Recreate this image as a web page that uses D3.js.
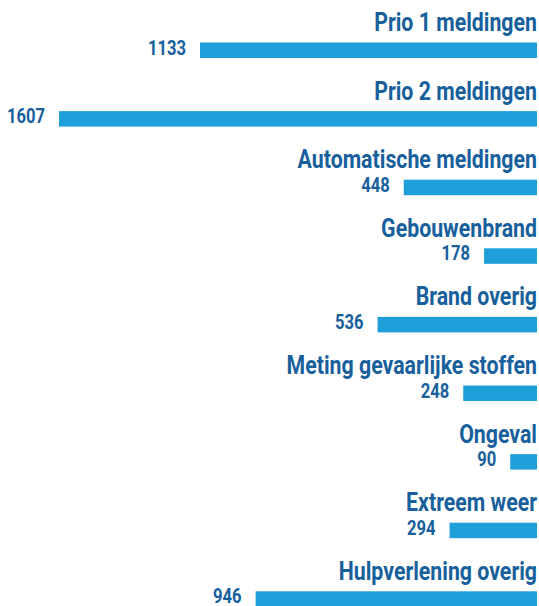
<!DOCTYPE html>
<html>
<head>
<meta charset="utf-8">
<script src="https://cdn.jsdelivr.net/npm/d3@7"></script>
<style>
  body { margin: 0; background: #fff; }
  text { font-family: Roboto, "Noto Sans", sans-serif; font-weight: 700; fill: #17609c; }
</style>
</head>
<body>
<script>
var categories = ["Prio 1 meldingen", "Prio 2 meldingen", "Automatische meldingen", "Gebouwenbrand",
  "Brand overig", "Meting gevaarlijke stoffen", "Ongeval", "Extreem weer", "Hulpverlening overig"];
var values = [1133, 1607, 448, 178, 536, 248, 90, 294, 946];

var width = 539, height = 606;
var right = 537, left = 59;
var barH = 15.5;

var svg = d3.select("body").append("svg")
  .attr("width", width)
  .attr("height", height);

var x = d3.scaleLinear()
  .domain([0, d3.max(values)])
  .range([0, right - left]);

var y = d3.scaleBand()
  .domain(categories)
  .range([-10.6, 606.8])
  .paddingInner(0);

var row = svg.selectAll(".row")
  .data(categories)
  .enter().append("g")
  .attr("class", "row")
  .attr("transform", function (d) { return "translate(0," + (y(d) + y.bandwidth() - barH) + ")"; });

row.append("rect")
  .attr("x", function (d, i) { return right - x(values[i]); })
  .attr("y", 0)
  .attr("width", function (d, i) { return x(values[i]); })
  .attr("height", barH)
  .attr("fill", "#1f9fd9");

// condensed look: squeeze horizontally
row.append("text")
  .attr("transform", "translate(" + right + ",-11.5) scale(0.82,1)")
  .attr("text-anchor", "end")
  .style("font-size", "26px")
  .text(function (d) { return d; });

row.append("text")
  .attr("transform", function (d, i) {
    return "translate(" + (right - x(values[i]) - 14) + ",12) scale(0.83,1)";
  })
  .attr("text-anchor", "end")
  .style("font-size", "20px")
  .text(function (d, i) { return values[i]; });
</script>
</body>
</html>
